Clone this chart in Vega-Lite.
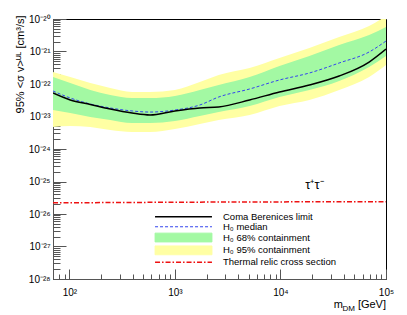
{
  "$schema": "https://vega.github.io/schema/vega-lite/v6.json",
  "autosize": {"type": "none"},
  "width": 333,
  "height": 260,
  "padding": {"left": 53, "top": 19, "right": 21, "bottom": 36},
  "background": "white",
  "datasets": {
    "curves": [
      {"m": 70, "lim": 5.28e-23, "med": 6.09e-23, "lo68": 1.58e-23, "hi68": 1.64e-22, "lo95": 4.75e-24, "hi95": 2.34e-22},
      {"m": 102, "lim": 3.22e-23, "med": 3.71e-23, "lo68": 1.28e-23, "hi68": 1.07e-22, "lo95": 5.1e-24, "hi95": 1.64e-22},
      {"m": 158, "lim": 2.35e-23, "med": 2.43e-23, "lo68": 9.66e-24, "hi68": 6.53e-23, "lo95": 4.75e-24, "hi95": 1.07e-22},
      {"m": 244, "lim": 1.7e-23, "med": 1.83e-23, "lo68": 7.8e-24, "hi68": 4.59e-23, "lo95": 3.85e-24, "hi95": 7.53e-23},
      {"m": 393, "lim": 1.28e-23, "med": 1.48e-23, "lo68": 6.31e-24, "hi68": 3.71e-23, "lo95": 3.33e-24, "hi95": 5.68e-23},
      {"m": 581, "lim": 1.11e-23, "med": 1.37e-23, "lo68": 6.31e-24, "hi68": 3.71e-23, "lo95": 3.33e-24, "hi95": 5.68e-23},
      {"m": 1000, "lim": 1.48e-23, "med": 1.58e-23, "lo68": 7.27e-24, "hi68": 4.28e-23, "lo95": 4.12e-24, "hi95": 6.53e-23},
      {"m": 1722, "lim": 1.83e-23, "med": 2.26e-23, "lo68": 1.04e-23, "hi68": 6.53e-23, "lo95": 5.88e-24, "hi95": 1.15e-22},
      {"m": 2600, "lim": 1.96e-23, "med": 3.98e-23, "lo68": 1.37e-23, "hi68": 9.31e-23, "lo95": 7.8e-24, "hi95": 1.89e-22},
      {"m": 5105, "lim": 3.22e-23, "med": 7.02e-23, "lo68": 2.1e-23, "hi68": 1.64e-22, "lo95": 1.11e-23, "hi95": 3.1e-22},
      {"m": 9790, "lim": 5.68e-23, "med": 1.33e-22, "lo68": 3.98e-23, "hi68": 3.58e-22, "lo95": 2.1e-23, "hi95": 6.31e-22},
      {"m": 18800, "lim": 9.31e-23, "med": 2.18e-22, "lo68": 6.53e-23, "hi68": 7.27e-22, "lo95": 3.22e-23, "hi95": 1.28e-21},
      {"m": 36000, "lim": 1.76e-22, "med": 4.43e-22, "lo68": 1.24e-22, "hi68": 1.58e-21, "lo95": 6.53e-23, "hi95": 2.79e-21},
      {"m": 69200, "lim": 4.75e-22, "med": 9.66e-22, "lo68": 3.33e-22, "hi68": 3.22e-21, "lo95": 1.64e-22, "hi95": 6.09e-21},
      {"m": 100000, "lim": 1.19e-21, "med": 2.1e-21, "lo68": 7.27e-22, "hi68": 5.68e-21, "lo95": 3.85e-22, "hi95": 1.24e-20}
    ],
    "thermal": [
      {"m": 70, "sv": 2.2e-26},
      {"m": 1000, "sv": 2.3e-26},
      {"m": 100000, "sv": 2.4e-26}
    ]
  },
  "layer": [
    {
      "data": {"name": "curves"},
      "mark": {"type": "area", "clip": true, "opacity": 1, "interpolate": "monotone"},
      "encoding": {
        "x": {"field": "m", "type": "quantitative",
          "scale": {"type": "log", "domain": [70, 100000], "nice": false},
          "axis": {"orient": "bottom", "title": null, "values": [100, 1000, 10000, 100000],
            "labelExpr": "['10²','10³','10⁴','10⁵'][round(log(datum.value)/LN10)-2]",
            "tickSize": -10, "labelPadding": 18, "domain": true}},
        "y": {"field": "hi95", "type": "quantitative",
          "scale": {"type": "log", "domain": [1e-28, 1e-20], "nice": false},
          "axis": {"orient": "left", "title": "95% <σ v>ᵁᴸ [cm³/s]",
            "values": [1e-28, 1e-27, 1e-26, 1e-25, 1e-24, 1e-23, 1e-22, 1e-21, 1e-20],
            "labelExpr": "['10⁻²⁸','10⁻²⁷','10⁻²⁶','10⁻²⁵','10⁻²⁴','10⁻²³','10⁻²²','10⁻²¹','10⁻²⁰'][round(log(datum.value)/LN10)+28]",
            "tickSize": -13, "labelPadding": 16, "domain": true,
            "titleAngle": -90, "titleAlign": "right", "titleAnchor": "end", "titleBaseline": "alphabetic",
            "titleX": -30, "titleY": -4}},
        "y2": {"field": "lo95"},
        "color": {"datum": "H₀ 95% containment", "type": "nominal",
          "scale": {"domain": ["Coma Berenices limit", "H₀ median", "H₀ 68% containment", "H₀ 95% containment", "Thermal relic cross section"],
                    "range": ["#000000", "#3344ee", "#a3f9a3", "#ffffa3", "#ee1111"]},
          "legend": {"orient": "none", "legendX": 125.75, "legendY": 193, "title": null, "padding": 0,
            "symbolSize": 90, "labelFont": "Liberation Sans", "labelFontSize": 9.5, "labelColor": "#000000",
            "labelOffset": 34.75, "rowPadding": -1.2,
            "symbolType": {"expr": "(datum.value === 'H₀ 68% containment' || datum.value === 'H₀ 95% containment') ? 'M-6,-0.93H6V0.93H-6Z' : 'M-6,0H6'"},
            "symbolDash": {"expr": "datum.value === 'H₀ median' ? [3,2] : (datum.value === 'Thermal relic cross section' ? [5,2,1.5,2] : [1,0])"},
            "symbolStrokeWidth": {"expr": "(datum.value === 'H₀ median' || datum.value === 'H₀ 68% containment' || datum.value === 'H₀ 95% containment') ? 1 : 1.5"},
            "symbolOpacity": 1
          }
        }
      }
    },
    {
      "data": {"name": "curves"},
      "mark": {"type": "area", "clip": true, "opacity": 1, "interpolate": "monotone"},
      "encoding": {
        "x": {"field": "m", "type": "quantitative",
          "axis": {"orient": "bottom", "title": null, "labels": false, "domain": false, "tickSize": -5,
            "values": [80, 90, 200, 300, 400, 500, 600, 700, 800, 900, 2000, 3000, 4000, 5000, 6000, 7000, 8000, 9000, 20000, 30000, 40000, 50000, 60000, 70000, 80000, 90000]}},
        "y": {"field": "hi68", "type": "quantitative",
          "axis": {"orient": "left", "title": null, "labels": false, "domain": false, "tickSize": -7,
            "values": [2e-28, 3e-28, 4e-28, 5e-28, 6e-28, 7e-28, 8e-28, 9e-28,
                       2e-27, 3e-27, 4e-27, 5e-27, 6e-27, 7e-27, 8e-27, 9e-27,
                       2e-26, 3e-26, 4e-26, 5e-26, 6e-26, 7e-26, 8e-26, 9e-26,
                       2e-25, 3e-25, 4e-25, 5e-25, 6e-25, 7e-25, 8e-25, 9e-25,
                       2e-24, 3e-24, 4e-24, 5e-24, 6e-24, 7e-24, 8e-24, 9e-24,
                       2e-23, 3e-23, 4e-23, 5e-23, 6e-23, 7e-23, 8e-23, 9e-23,
                       2e-22, 3e-22, 4e-22, 5e-22, 6e-22, 7e-22, 8e-22, 9e-22,
                       2e-21, 3e-21, 4e-21, 5e-21, 6e-21, 7e-21, 8e-21, 9e-21]}},
        "y2": {"field": "lo68"},
        "color": {"datum": "H₀ 68% containment", "type": "nominal"}
      }
    },
    {
      "data": {"name": "curves"},
      "mark": {"type": "line", "clip": true, "strokeWidth": 1, "strokeDash": [3, 2], "interpolate": "monotone"},
      "encoding": {
        "x": {"field": "m", "type": "quantitative", "axis": null},
        "y": {"field": "med", "type": "quantitative", "axis": null},
        "color": {"datum": "H₀ median", "type": "nominal"}
      }
    },
    {
      "data": {"name": "curves"},
      "mark": {"type": "line", "clip": true, "strokeWidth": 1.5, "interpolate": "monotone"},
      "encoding": {
        "x": {"field": "m", "type": "quantitative", "axis": null},
        "y": {"field": "lim", "type": "quantitative", "axis": null},
        "color": {"datum": "Coma Berenices limit", "type": "nominal"}
      }
    },
    {
      "data": {"name": "thermal"},
      "mark": {"type": "line", "clip": true, "strokeWidth": 1.5, "strokeDash": [5, 2, 1.5, 2], "interpolate": "monotone"},
      "encoding": {
        "x": {"field": "m", "type": "quantitative", "axis": null},
        "y": {"field": "sv", "type": "quantitative", "axis": null},
        "color": {"datum": "Thermal relic cross section", "type": "nominal"}
      }
    },
    {
      "data": {"values": [{}]},
      "mark": {"type": "text", "font": "Liberation Sans", "fontSize": 13, "align": "center", "baseline": "middle", "color": "#000000"},
      "encoding": {
        "x": {"datum": 21000, "type": "quantitative", "axis": null},
        "y": {"datum": 7.8e-26, "type": "quantitative", "axis": null},
        "text": {"value": "τ⁺τ⁻"}
      }
    },
    {
      "data": {"values": [{}]},
      "mark": {"type": "text", "font": "Liberation Sans", "fontSize": 11, "align": "right", "baseline": "alphabetic", "dy": 29, "color": "#000000"},
      "encoding": {
        "x": {"datum": 100000, "type": "quantitative", "axis": null},
        "y": {"datum": 1e-28, "type": "quantitative", "axis": null},
        "text": {"value": "[GeV]"}
      }
    },
    {
      "data": {"values": [{}]},
      "mark": {"type": "text", "font": "Liberation Sans", "fontSize": 8, "align": "right", "baseline": "alphabetic", "dx": -31, "dy": 32, "color": "#000000"},
      "encoding": {
        "x": {"datum": 100000, "type": "quantitative", "axis": null},
        "y": {"datum": 1e-28, "type": "quantitative", "axis": null},
        "text": {"value": "DM"}
      }
    },
    {
      "data": {"values": [{}]},
      "mark": {"type": "text", "font": "Liberation Sans", "fontSize": 11, "align": "right", "baseline": "alphabetic", "dx": -43, "dy": 29, "color": "#000000"},
      "encoding": {
        "x": {"datum": 100000, "type": "quantitative", "axis": null},
        "y": {"datum": 1e-28, "type": "quantitative", "axis": null},
        "text": {"value": "m"}
      }
    }
  ],
  "resolve": {"axis": {"x": "independent", "y": "independent"}},
  "config": {
    "view": {"stroke": "#000000", "strokeWidth": 1},
    "font": "Liberation Sans",
    "axis": {"grid": false, "labelFont": "Liberation Sans", "labelFontSize": 10, "labelColor": "#000000",
      "domainColor": "#555555", "tickColor": "#555555", "titleFont": "Liberation Sans", "titleFontWeight": "normal",
      "titleFontSize": 11, "titleColor": "#000000", "labelFlush": false, "labelOverlap": false}
  }
}
